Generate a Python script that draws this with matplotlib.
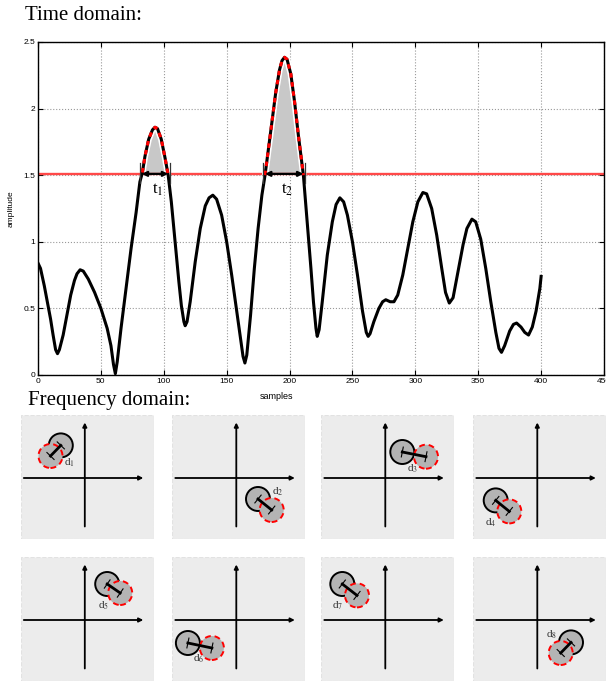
import numpy as np
import matplotlib.pyplot as plt
from matplotlib.patches import Circle, Rectangle

plt.rcParams['font.family'] = ['Liberation Sans', 'DejaVu Sans']
plt.rcParams['mathtext.fontset'] = 'stix'

# time domain signal
samples = [0, 2, 5, 8, 10, 12, 14, 15.5, 17, 20, 23, 26, 29, 31, 33.5, 36, 40, 45, 50, 55,
           58, 60, 61.5, 63, 66, 70, 74, 78, 81, 83, 85, 88, 91, 93, 95, 98, 101, 103.5, 106, 109,
           112, 114, 116, 117, 118.5, 121, 125, 129, 133, 136, 139, 142, 146, 150, 154, 158, 161, 163, 164.5, 166,
           169, 172, 175, 178, 180.5, 183, 186, 189, 192, 194, 196, 198, 201, 204, 207, 211, 214, 217, 219, 221,
           222, 223.5, 226, 230, 234, 237, 240, 243, 246, 250, 254, 258, 261, 262.5, 264, 267, 271, 274, 276.5, 280,
           283, 286, 290, 294, 298, 302, 306, 309, 313, 317, 321, 324, 327, 330, 334, 338, 341, 345, 348, 352,
           356, 360, 364, 366.5, 368.5, 371, 375, 378, 380.5, 384, 387, 390, 393, 396, 399, 400]
amplitude = [0.84, 0.80, 0.67, 0.52, 0.42, 0.30, 0.19, 0.16, 0.19, 0.30, 0.45, 0.60, 0.71, 0.76, 0.79, 0.78, 0.72, 0.62, 0.50, 0.35,
             0.22, 0.08, 0.01, 0.10, 0.35, 0.65, 0.95, 1.22, 1.45, 1.52, 1.64, 1.77, 1.84, 1.86, 1.85, 1.77, 1.63, 1.50, 1.30, 1.00,
             0.70, 0.52, 0.40, 0.37, 0.40, 0.55, 0.85, 1.10, 1.27, 1.33, 1.35, 1.32, 1.20, 1.00, 0.75, 0.48, 0.28, 0.14, 0.09, 0.15,
             0.45, 0.80, 1.10, 1.35, 1.50, 1.68, 1.90, 2.12, 2.29, 2.36, 2.385, 2.37, 2.26, 2.05, 1.80, 1.50, 1.15, 0.80, 0.55, 0.35,
             0.29, 0.34, 0.55, 0.90, 1.15, 1.28, 1.33, 1.30, 1.20, 1.00, 0.75, 0.48, 0.32, 0.29, 0.31, 0.40, 0.50, 0.55, 0.565, 0.55,
             0.55, 0.60, 0.75, 0.95, 1.15, 1.30, 1.37, 1.36, 1.25, 1.05, 0.80, 0.62, 0.54, 0.58, 0.78, 0.98, 1.10, 1.17, 1.15, 1.02,
             0.80, 0.55, 0.32, 0.20, 0.17, 0.22, 0.33, 0.38, 0.39, 0.36, 0.32, 0.30, 0.36, 0.48, 0.65, 0.74]

threshold = 1.51
peak_start = [82.5, 180.5]
peak_end = [103.5, 211.0]
peak_labels = ['t$_1$', 't$_2$']

# frequency domain panels: circle centres relative to the axis cross
black_x = [-24, 21.7, 17, -41.6, 22.4, -48.4, -43, 33.7]
black_y = [32.6, -21, 26, -22.4, 36, -23, 36, -22.4]
red_x = [-34.3, 35.4, 40.7, -28, 35.4, -24.4, -28.3, 23.4]
red_y = [22, -32, 21.3, -33.4, 27, -28, 24.6, -33]
label_pos = [(-15.7, 15), (41, -13.4), (27.7, 9.3), (-46.6, -44.4),
             (18.4, 14.3), (-37.7, -39), (-47.3, 14.3), (14.4, -14.7)]

W, H = 606, 681
fig = plt.figure(figsize=(W / 100, H / 100), dpi=100)

# ---- time domain ----
ax = fig.add_axes([38 / W, 1 - 375 / H, 566 / W, 333 / H])
x = np.array(samples)
y = np.array(amplitude)
above = np.where(y >= threshold - 0.02, y, np.nan)

ax.fill_between(x, threshold, y, where=y > threshold, interpolate=True,
                color='#c8c8c8', lw=0, zorder=2)
ax.axhline(threshold, color='#ff4848', lw=1.7, zorder=2.5)
ax.plot(x, above, color='white', lw=4.6, solid_capstyle='butt', zorder=3)
ax.plot(x, y, color='black', lw=2.2, zorder=4)
ax.plot(x, above, color='red', lw=2.2, ls=(0, (1.5, 1.5)), zorder=5)

for s, e, lab in zip(peak_start, peak_end, peak_labels):
    ax.annotate('', xy=(s, threshold), xytext=(e, threshold),
                arrowprops=dict(arrowstyle='<|-|>', color='black', lw=1.6,
                                mutation_scale=7, shrinkA=0, shrinkB=0), zorder=6)
    for xb in (s - 1.5, e + 1.5):
        ax.plot([xb, xb], [threshold - 0.07, threshold + 0.08], color='#333333', lw=0.9, zorder=6)
    ax.text((s + e) / 2 + 2, threshold - 0.12, lab, family='Liberation Serif',
            fontsize=12, ha='center', va='center')

ax.set_xlim(0, 450)
ax.set_ylim(0, 2.5)
ax.set_xticks(np.arange(0, 451, 50))
ax.set_yticks([0, 0.5, 1, 1.5, 2, 2.5])
ax.set_yticklabels(['0', '0.5', '1', '1.5', '2', '2.5'])
ax.tick_params(direction='in', top=True, right=True, length=3.5, width=0.8,
               labelsize=6, pad=2)
ax.grid(True, ls=':', color='#999999', lw=0.8)
for sp in ax.spines.values():
    sp.set_linewidth(1)
ax.set_xlabel('samples', fontsize=6.5)
ax.xaxis.set_label_coords(0.422, -0.051)
ax.set_ylabel('amplitude', fontsize=6)
ax.yaxis.set_label_coords(-0.042, 0.5)

fig.text(25 / W, 1 - 15 / H, 'Time domain:', family='Liberation Serif', fontsize=15, va='center')
fig.text(28 / W, 1 - 401 / H, 'Frequency domain:', family='Liberation Serif', fontsize=15, va='center')

# ---- frequency domain ----
PW, PH = 133, 124
lefts = [20.5, 172, 321, 473]
tops = [415, 557]
r_circ = 12

for i in range(8):
    row, col = divmod(i, 4)
    pa = fig.add_axes([lefts[col] / W, 1 - (tops[row] + PH) / H, PW / W, PH / H])
    pa.set_xlim(-64.3, PW - 64.3)
    pa.set_ylim(-(PH - 63), 63)
    pa.set_axis_off()
    pa.add_patch(Rectangle((0, 0), 1, 1, transform=pa.transAxes, fc='#ececec',
                           ec='#e2e2e2', ls='--', lw=0.8, zorder=0))
    arrow = dict(arrowstyle='-|>', color='black', lw=1.3, mutation_scale=6, shrinkA=0, shrinkB=0)
    pa.annotate('', xy=(58.5, 0), xytext=(-61, 0), arrowprops=arrow)
    pa.annotate('', xy=(0, 55.5), xytext=(0, -48.5), arrowprops=arrow)

    bx, by, rx, ry = black_x[i], black_y[i], red_x[i], red_y[i]
    pa.add_patch(Circle((bx, by), r_circ, fc='#b4b4b4', ec='black', lw=1.4, zorder=3))
    pa.add_patch(Circle((rx, ry), r_circ, fc='#b4b4b4', ec='red', lw=1.4,
                        ls=(0, (3, 2)), zorder=4))
    dx, dy = rx - bx, ry - by
    L = np.hypot(dx, dy)
    nx, ny = -dy / L, dx / L
    pa.plot([bx, rx], [by, ry], color='black', lw=2, zorder=5)
    for px, py in ((bx, by), (rx, ry)):
        pa.plot([px - 5 * nx, px + 5 * nx], [py - 5 * ny, py + 5 * ny],
                color='black', lw=0.8, zorder=5)
    lx, ly = label_pos[i]
    pa.text(lx, ly, 'd$_{%d}$' % (i + 1), family='Liberation Serif', fontsize=8,
            color='#333333', ha='center', va='center', zorder=6)

fig.savefig('out.png', dpi=100)
